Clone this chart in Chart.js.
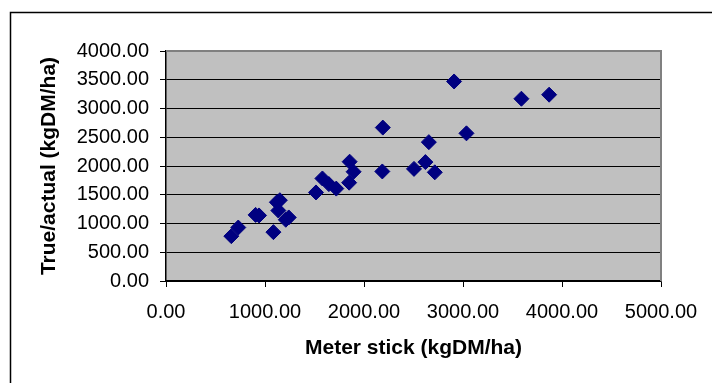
<!DOCTYPE html>
<html>
<head>
<meta charset="utf-8">
<script src="https://cdn.jsdelivr.net/npm/chart.js@4"></script>
<style>
  html, body { margin: 0; padding: 0; background: #fff; }
  #wrap { width: 712px; height: 383px; }
</style>
</head>
<body>
<div id="wrap"><canvas id="myChart" width="712" height="383"></canvas></div>
<script>
// meter stick reading vs true/actual yield, kgDM/ha
var meterStick = [2910, 3590, 3870, 2190, 3035, 2655, 2620, 2505, 2715, 2185,
                  1855, 1895, 1850, 1580, 1645, 1720, 1515, 1150, 1120, 1135,
                  1240, 1210, 905, 940, 1085, 730, 660];
var trueActual = [3470, 3170, 3240, 2668, 2568, 2415, 2068, 1950, 1890, 1905,
                  2075, 1900, 1710, 1783, 1685, 1607, 1540, 1405, 1370, 1225,
                  1105, 1065, 1150, 1140, 850, 930, 780];
var xTicks = [0, 1000, 2000, 3000, 4000, 5000];
var yTicks = [0, 500, 1000, 1500, 2000, 2500, 3000, 3500, 4000];

var points = meterStick.map(function (x, i) { return { x: x, y: trueActual[i] }; });

var plotBg = {
  id: 'plotBg',
  beforeDraw: function (chart) {
    var a = chart.chartArea, c = chart.ctx;
    c.save();
    c.fillStyle = '#C0C0C0';
    c.fillRect(a.left, a.top, a.right - a.left, a.bottom - a.top);
    c.restore();
  },
  beforeDatasetsDraw: function (chart) {
    var a = chart.chartArea, c = chart.ctx;
    c.save();
    c.strokeStyle = '#808080';
    c.lineWidth = 2;
    c.beginPath();
    c.moveTo(a.left, a.top);
    c.lineTo(a.right, a.top);
    c.lineTo(a.right, a.bottom);
    c.stroke();
    c.restore();
  },
  afterDraw: function (chart) {
    var c = chart.ctx;
    c.save();
    c.strokeStyle = '#000';
    c.lineWidth = 1.5;
    c.strokeRect(10.5, 12.5, 800, 400);
    c.restore();
  }
};

var ctx = document.getElementById('myChart').getContext('2d');
var myChart = new Chart(ctx, {
  type: 'scatter',
  data: {
    datasets: [{
      label: 'Meter stick',
      data: points,
      pointStyle: 'rectRot',
      pointRadius: 7.5,
      pointHoverRadius: 7.5,
      backgroundColor: '#000080',
      borderColor: '#000080',
      borderWidth: 1
    }]
  },
  plugins: [plotBg],
  options: {
    responsive: false,
    animation: false,
    layout: { padding: { left: 0, top: 51, right: 51, bottom: 0 } },
    plugins: { legend: { display: false }, tooltip: { enabled: false } },
    scales: {
      x: {
        type: 'linear',
        min: 0,
        max: 5000,
        afterBuildTicks: function (s) { s.ticks = xTicks.map(function (v) { return { value: v }; }); },
        afterFit: function (s) { s.height = 102; },
        grid: { drawOnChartArea: false, drawTicks: true, tickLength: 6, color: '#000' },
        border: { display: true, color: '#000', width: 1.5 },
        ticks: {
          color: '#000',
          padding: 13,
          maxRotation: 0,
          font: { family: 'Liberation Sans, Arial', size: 20 },
          callback: function (v) { return Number(v).toFixed(2); }
        },
        title: {
          display: true,
          text: 'Meter stick (kgDM/ha)',
          color: '#000',
          font: { family: 'Liberation Sans, Arial', size: 21, weight: 'bold' },
          padding: { top: 0, bottom: 22 }
        }
      },
      y: {
        type: 'linear',
        min: 0,
        max: 4000,
        afterBuildTicks: function (s) { s.ticks = yTicks.map(function (v) { return { value: v }; }); },
        afterFit: function (s) { s.width = 166; },
        grid: { drawOnChartArea: true, drawTicks: true, tickLength: 6, color: '#000', lineWidth: 1 },
        border: { display: true, color: '#000', width: 1.5 },
        ticks: {
          color: '#000',
          padding: 11,
          font: { family: 'Liberation Sans, Arial', size: 20 },
          callback: function (v) { return Number(v).toFixed(2); }
        },
        title: {
          display: true,
          text: 'True/actual (kgDM/ha)',
          color: '#000',
          font: { family: 'Liberation Sans, Arial', size: 21, weight: 'bold' },
          padding: { top: 37, bottom: 0 }
        }
      }
    }
  }
});
</script>
</body>
</html>
